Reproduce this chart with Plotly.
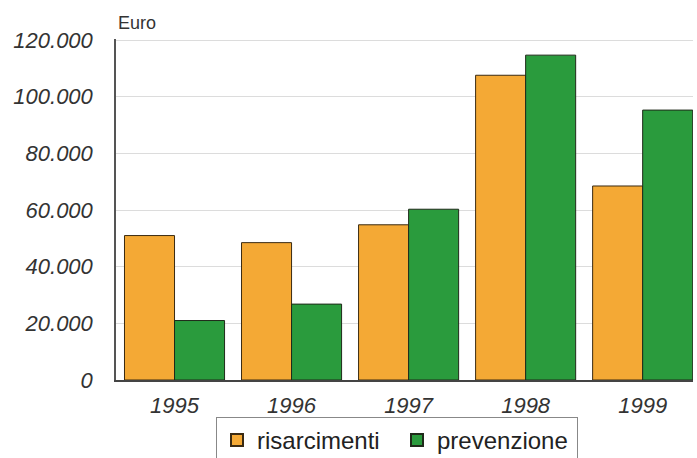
import plotly.graph_objects as go

years = ["1995", "1996", "1997", "1998", "1999"]
risarcimenti = [51000, 48500, 54800, 107600, 68500]
prevenzione = [21000, 26800, 60300, 114700, 95300]
ytick_vals = [0, 20000, 40000, 60000, 80000, 100000, 120000]
ytick_text = ["0", "20.000", "40.000", "60.000", "80.000", "100.000", "120.000"]

W, H = 697, 458
L, R, T, B = 116, 4, 39, 78
pw, ph = W - L - R, H - T - B

fig = go.Figure()
fig.add_trace(go.Bar(x=years, y=risarcimenti, name="risarcimenti",
                     marker=dict(color="#F4A935", line=dict(color="#3a2a12", width=1))))
fig.add_trace(go.Bar(x=years, y=prevenzione, name="prevenzione",
                     marker=dict(color="#2A9B3D", line=dict(color="#1f2a1a", width=1))))

fig.update_layout(
    width=W, height=H,
    margin=dict(l=L, r=R, t=T, b=B, pad=0, autoexpand=False),
    paper_bgcolor="white", plot_bgcolor="white",
    barmode="group", bargap=0.145, bargroupgap=0,
    font=dict(family="Liberation Sans, Arial, sans-serif", color="#333333"),
    showlegend=True,
    legend=dict(orientation="h", xanchor="left", yanchor="top",
                x=(216 - L) / pw, y=-(417 - (T + ph)) / ph,
                font=dict(size=24, color="#222222"),
                bordercolor="#888888", borderwidth=1, bgcolor="white",
                itemsizing="constant", tracegroupgap=0, itemwidth=30,
                entrywidth=135),
    xaxis=dict(range=[-0.5, 4.43], showgrid=False, showline=True, linecolor="#444444",
               linewidth=1.5, ticks="", tickfont=dict(size=22, style="italic", color="#333333"),
               ticklabelstandoff=5),
    yaxis=dict(range=[0, 120400], tickvals=ytick_vals, ticktext=ytick_text,
               showgrid=True, gridcolor="#dcdcdc", gridwidth=1, zeroline=False,
               showline=True, linecolor="#555555", linewidth=1.5, ticks="",
               tickfont=dict(size=22, style="italic", color="#333333"),
               ticklabelstandoff=17),
    annotations=[dict(text="Euro", xref="paper", yref="paper", x=0, y=1,
                      xanchor="left", yanchor="bottom", yshift=4, showarrow=False,
                      font=dict(size=18, color="#333333"))],
)

fig.write_html("out.html")
